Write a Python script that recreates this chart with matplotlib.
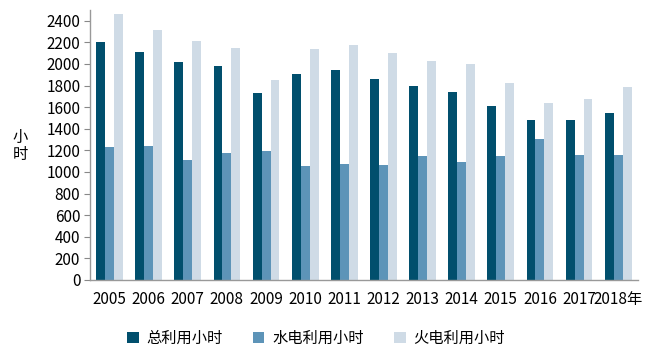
import matplotlib
matplotlib.use("Agg")
import matplotlib.pyplot as plt
import numpy as np

plt.rcParams['font.family'] = ['Noto Sans CJK SC', 'DejaVu Sans']

years = ["2005", "2006", "2007", "2008", "2009", "2010", "2011", "2012",
         "2013", "2014", "2015", "2016", "2017", "2018年"]
total_hours = [2206, 2111, 2018, 1981, 1727, 1910, 1944, 1860, 1798, 1740, 1607, 1486, 1486, 1545]
hydro_hours = [1233, 1245, 1112, 1174, 1196, 1054, 1075, 1066, 1150, 1088, 1150, 1307, 1159, 1159]
thermal_hours = [2463, 2318, 2209, 2151, 1848, 2139, 2172, 2101, 2030, 2002, 1823, 1641, 1678, 1786]
series_names = ["总利用小时", "水电利用小时", "火电利用小时"]
colors = ["#014F6D", "#5D94B8", "#CFDBE6"]
yticks = list(range(0, 2401, 200))

fig = plt.figure(figsize=(6.65, 3.57), dpi=100)
ax = fig.add_axes([0.1353, 0.2157, 0.959 - 0.1353, 0.972 - 0.2157])

x = np.arange(len(years))
w = 0.228
for i, (vals, name, c) in enumerate(zip([total_hours, hydro_hours, thermal_hours], series_names, colors)):
    ax.bar(x + (i - 1) * w, vals, width=w, color=c, label=name, zorder=2)

ax.set_xlim(-0.5, len(years) - 0.5)
ax.set_ylim(0, 2500)
ax.set_yticks(yticks)
ax.set_yticklabels([str(v) for v in yticks], fontsize=11)
ax.set_xticks(x)
ax.set_xticklabels(years, fontsize=11)
ax.tick_params(axis='x', length=0, pad=8)
ax.tick_params(axis='y', length=4, color='#888888', pad=3)
for s in ['top', 'right']:
    ax.spines[s].set_visible(False)
for s in ['left', 'bottom']:
    ax.spines[s].set_color('#999999')
    ax.spines[s].set_linewidth(1.0)

fig.text(0.03, 0.59, "小\n时", fontsize=11, ha='center', va='center', linespacing=1.0)

leg = fig.legend(loc='center', bbox_to_anchor=(0.475, 0.052), ncol=3, frameon=False,
                 fontsize=11, handlelength=0.75, handleheight=0.75,
                 columnspacing=2.0, handletextpad=0.5)

fig.savefig("out.png", dpi=100)
